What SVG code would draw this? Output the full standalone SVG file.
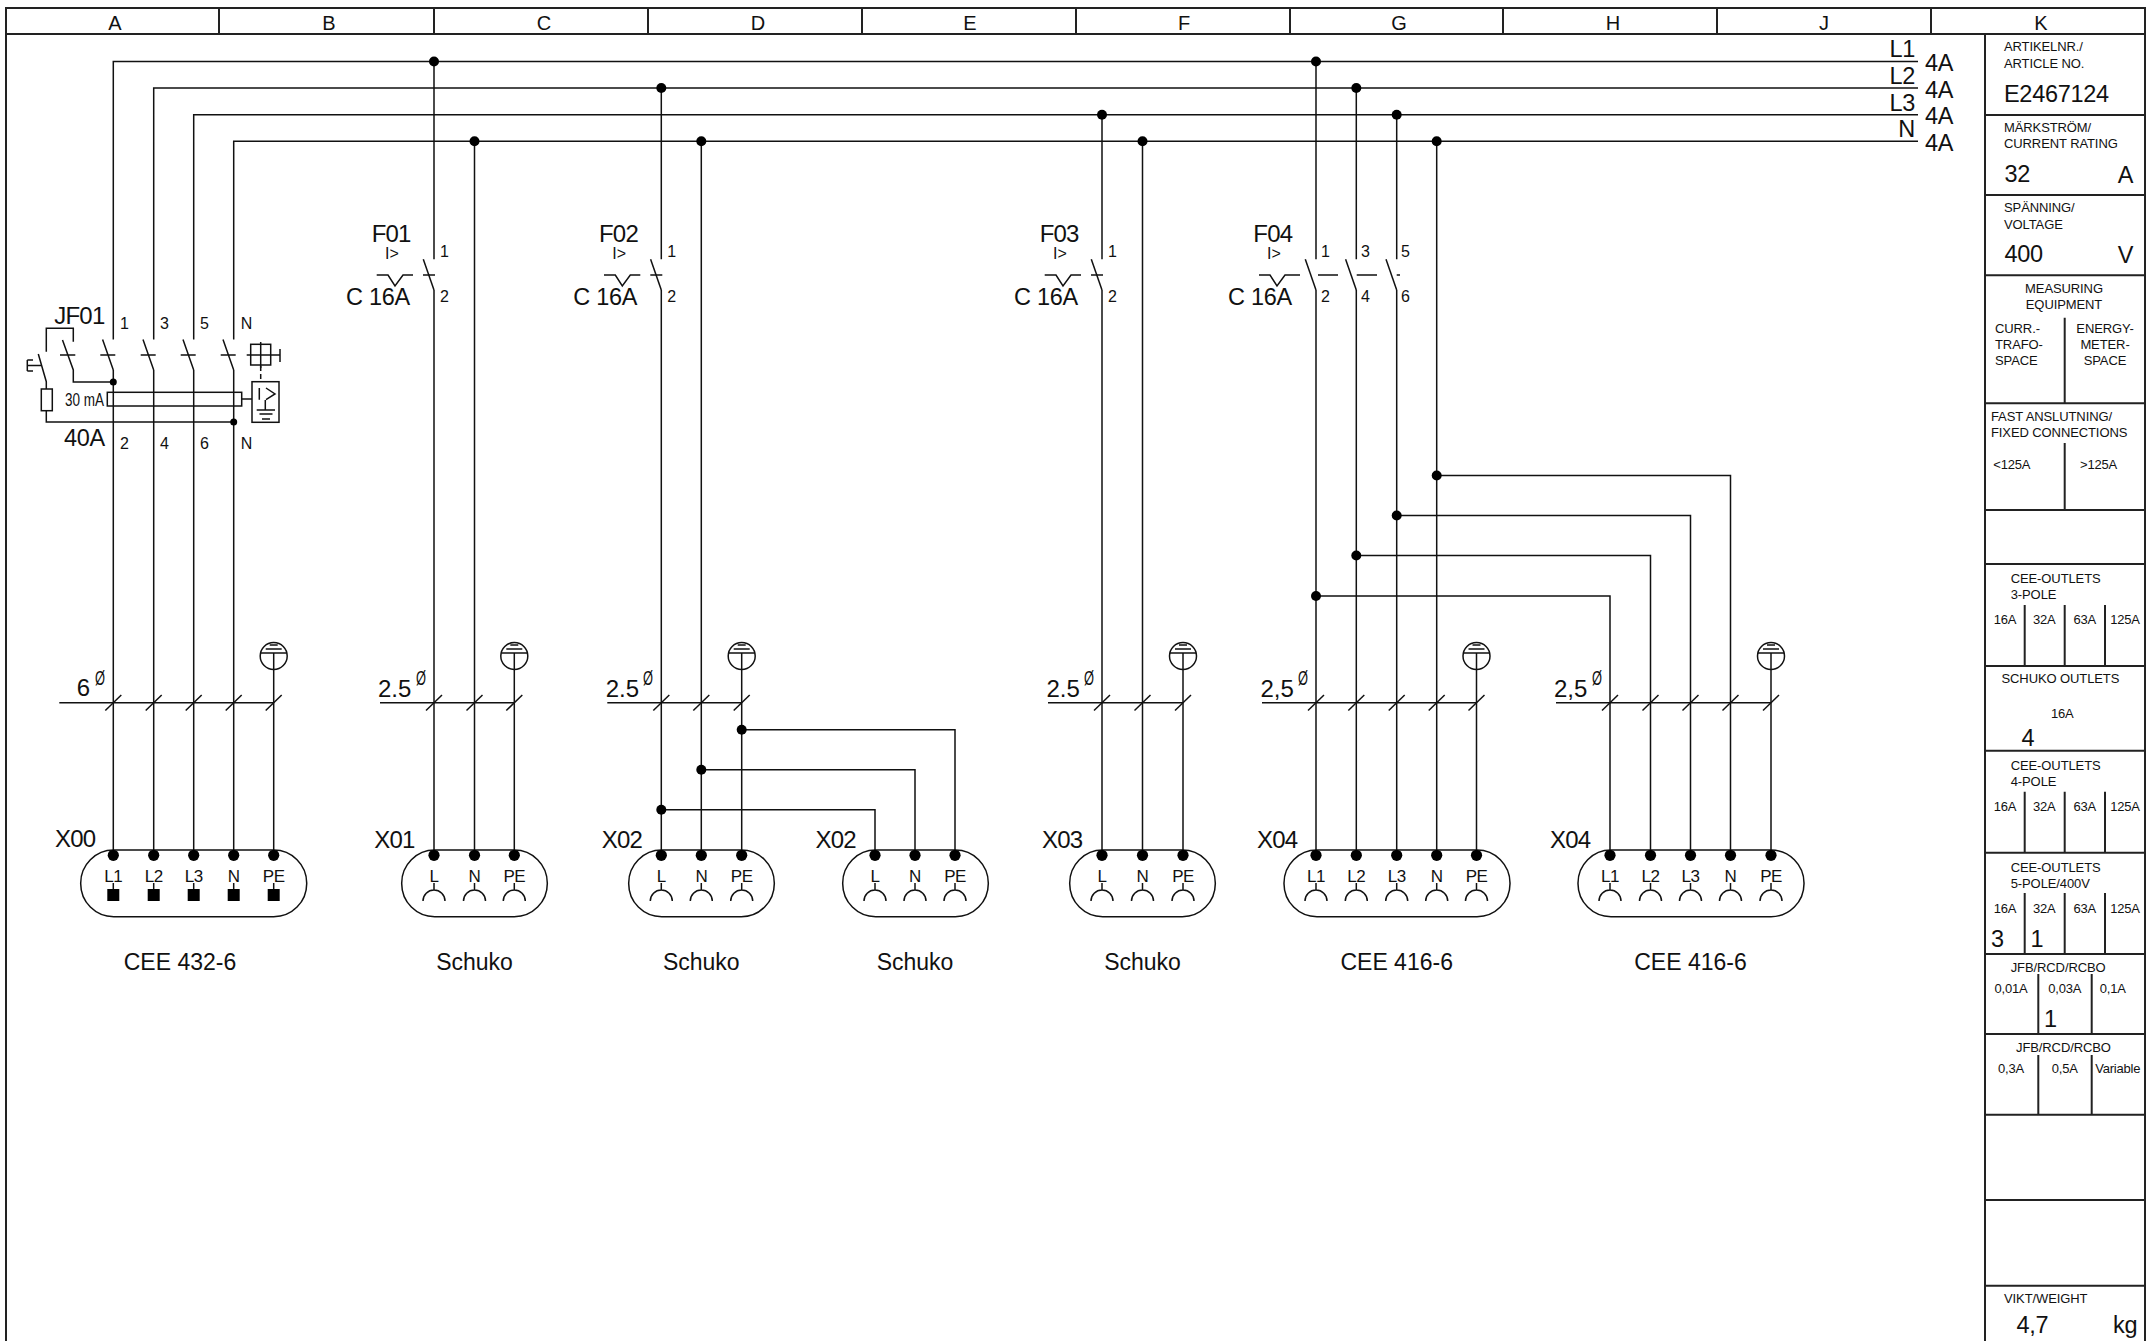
<svg xmlns="http://www.w3.org/2000/svg" width="2149" height="1341" viewBox="0 0 2149 1341">
<style>
text{font-family:"Liberation Sans",Arial,sans-serif;fill:#111}
.w,.w *{fill:none;stroke:#111;stroke-width:1.5}
.f{fill:none;stroke:#222;stroke-width:2}
.h{font-size:20px;text-anchor:middle}
.s{font-size:13px;letter-spacing:-.1px}
.a{font-size:13px;text-anchor:middle;letter-spacing:-.2px}
.c{font-size:13px;text-anchor:middle;letter-spacing:-.1px}
.b{font-size:23.5px;letter-spacing:-.3px}
.m{font-size:23px;text-anchor:middle}
.p{font-size:17px;text-anchor:middle;letter-spacing:-.5px}
.t{font-size:16px}
.d{font-size:24px;letter-spacing:-.8px}
.z{font-size:20px}
.k{fill:#000;stroke:none}
</style>
<defs>
<circle id="dot" r="5" class="k"/>
<circle id="pin" r="5.6" class="k"/>
<g id="plug"><path d="M0 883V889" class="w"/><rect x="-6" y="889" width="12" height="12" class="k"/></g>
<g id="sock" class="w"><path d="M0 883V890M-11 901A11 11 0 0 1 11 901"/></g>
<g id="earth" class="w"><circle cy="656" r="13.5"/><path d="M-4 645H4M-8 649H8M-13 653H13"/></g>
<path id="slash" d="M-8 710.5L8 695" class="w"/>
<path id="blade1" d="M-10.7 339.5L0 370M-13 355H2" class="w"/>
<path id="blade2" d="M-10.7 259.3L0 290" class="w"/>
<path id="tick" d="M-11 275H1" class="w"/>
<g id="curve" class="w"><path d="M-57.3 275H-46L-39 286L-31 275H-21"/></g>
<g id="curve4" class="w"><path d="M-57 275H-46L-39 286L-31 275H-16"/></g>
</defs>

<g id="frame">
<path class="f" d="M6 1341V8H2145V1341M6 34H2145M1985 34V1341"/>
<path class="f" d="M219 8V34M434 8V34M648 8V34M862 8V34M1076 8V34M1290 8V34M1503 8V34M1717 8V34M1931 8V34"/>
<text class="h" x="115" y="30">A</text><text class="h" x="329" y="30">B</text><text class="h" x="544" y="30">C</text><text class="h" x="758" y="30">D</text><text class="h" x="970" y="30">E</text><text class="h" x="1184" y="30">F</text><text class="h" x="1399" y="30">G</text><text class="h" x="1613" y="30">H</text><text class="h" x="1824" y="30">J</text><text class="h" x="2041" y="30">K</text>
</g>

<g id="connectors" class="w">
<path d="M113.3 339.5V61.5H1918M153.7 339.5V88H1918M193.7 339.5V114.7H1918M233.7 339.5V141.3H1918"/>
<path d="M113.3 370V855M153.7 370V855M193.7 370V855M233.7 370V855M273.7 653V855"/>
<path d="M434 61.5V259.3M434 290V855M474.5 141.3V855M514.3 653V855"/>
<path d="M661.3 88V259.3M661.3 290V855M701.3 141.3V855M741.7 653V855"/>
<path d="M741.7 729.7H955V855M701.3 769.7H915V855M661.3 809.7H875V855"/>
<path d="M1102 114.7V259.3M1102 290V855M1142.5 141.3V855M1183 653V855"/>
<path d="M1316 61.5V259.3M1316 290V855M1356.3 88V259.3M1356.3 290V855M1396.7 114.7V259.3M1396.7 290V855M1436.7 141.3V855M1476.5 653V855"/>
<path d="M1436.7 475.5H1730.5V855M1396.7 515.5H1690.5V855M1356.3 555.5H1650.5V855M1316 596H1610V855M1771 653V855"/>
<use href="#dot" x="434" y="61.5"/><use href="#dot" x="474.5" y="141.3"/><use href="#dot" x="661.3" y="88"/><use href="#dot" x="701.3" y="141.3"/><use href="#dot" x="1102" y="114.7"/><use href="#dot" x="1142.5" y="141.3"/><use href="#dot" x="1316" y="61.5"/><use href="#dot" x="1356.3" y="88"/><use href="#dot" x="1396.7" y="114.7"/><use href="#dot" x="1436.7" y="141.3"/>
<use href="#dot" x="741.7" y="729.7"/><use href="#dot" x="701.3" y="769.7"/><use href="#dot" x="661.3" y="809.7"/>
<use href="#dot" x="1436.7" y="475.5"/><use href="#dot" x="1396.7" y="515.5"/><use href="#dot" x="1356.3" y="555.5"/><use href="#dot" x="1316" y="596"/>
</g>

<g id="bus-labels">
<text class="b" x="1915" y="57.3" text-anchor="end">L1</text><text class="b" x="1915" y="84" text-anchor="end">L2</text><text class="b" x="1915" y="110.7" text-anchor="end">L3</text><text class="b" x="1915" y="136.7" text-anchor="end">N</text>
<text class="b" x="1925" y="71">4A</text><text class="b" x="1925" y="97.7">4A</text><text class="b" x="1925" y="124.3">4A</text><text class="b" x="1925" y="150.7">4A</text>
</g>

<g id="JF01">
<use href="#blade1" x="113.3"/><use href="#blade1" x="153.7"/><use href="#blade1" x="193.7"/><use href="#blade1" x="233.7"/>
<g class="w">
<path d="M46.3 351.7V328.3H73.3V341.7M62.5 340L73.3 370V382H113.3M60 355H75.3M38.3 354L46.3 381.7V389M46.3 410.7V422H233.7"/>
<path d="M27.3 360V371M27.3 360H33M27.3 365.5H41M27.3 371H33"/>
<rect x="41.3" y="389" width="11" height="21.7"/>
<rect x="107.3" y="392.3" width="134.4" height="13.7"/>
<path d="M241.7 399H252"/>
<rect x="252" y="381.7" width="27" height="40.6"/>
<path d="M259.3 388V399.7M266 388L275 394L266 399.7M265.3 400V410M256.7 410H275M259.5 414H272.5M262 419H270"/>
<path d="M260.7 366V381.7" stroke-dasharray="5 3"/>
<rect x="250.7" y="344.3" width="20" height="20.7"/>
<path d="M246.7 355H280M260.7 342V368M280 349V362"/>
</g>
<circle cx="113.3" cy="382" r="3.5" class="k"/><circle cx="233.7" cy="422" r="3.5" class="k"/>
<text class="d" x="54.3" y="324">JF01</text>
<text x="65" y="405.7" font-size="18" textLength="39" lengthAdjust="spacingAndGlyphs">30 mA</text>
<text x="64" y="446" font-size="23.5" letter-spacing="-.3">40A</text>
<text class="t" x="120" y="329">1</text><text class="t" x="160" y="329">3</text><text class="t" x="200" y="329">5</text><text class="t" x="240.7" y="329">N</text>
<text class="t" x="120" y="449">2</text><text class="t" x="160" y="449">4</text><text class="t" x="200" y="449">6</text><text class="t" x="240.7" y="449">N</text>
</g>

<g id="F01">
<use href="#blade2" x="434"/><use href="#tick" x="434"/><use href="#curve" x="434"/>
<text class="d" x="371.7" y="242.3">F01</text><text class="t" x="385" y="259">I&gt;</text><text class="b" x="346" y="305">C 16A</text>
<text class="t" x="440" y="256.7">1</text><text class="t" x="440" y="301.7">2</text>
</g>
<g id="F02">
<use href="#blade2" x="661.3"/><use href="#tick" x="661.3"/><use href="#curve" x="661.3"/>
<text class="d" x="599" y="242.3">F02</text><text class="t" x="612.3" y="259">I&gt;</text><text class="b" x="573.3" y="305">C 16A</text>
<text class="t" x="667.3" y="256.7">1</text><text class="t" x="667.3" y="301.7">2</text>
</g>
<g id="F03">
<use href="#blade2" x="1102"/><use href="#tick" x="1102"/><use href="#curve" x="1102"/>
<text class="d" x="1039.7" y="242.3">F03</text><text class="t" x="1053" y="259">I&gt;</text><text class="b" x="1014" y="305">C 16A</text>
<text class="t" x="1108" y="256.7">1</text><text class="t" x="1108" y="301.7">2</text>
</g>
<g id="F04">
<use href="#blade2" x="1316"/><use href="#blade2" x="1356.3"/><use href="#blade2" x="1396.7"/><use href="#curve4" x="1316"/>
<path class="w" d="M1318 275H1338M1356.7 275H1377M1396.7 275H1400"/>
<text class="d" x="1253.3" y="242.3">F04</text><text class="t" x="1267" y="259">I&gt;</text><text class="b" x="1228" y="305">C 16A</text>
<text class="t" x="1321" y="256.7">1</text><text class="t" x="1361" y="256.7">3</text><text class="t" x="1401" y="256.7">5</text>
<text class="t" x="1321" y="301.7">2</text><text class="t" x="1361" y="301.7">4</text><text class="t" x="1401" y="301.7">6</text>
</g>

<g id="cable-0">
<use href="#earth" x="273.7"/><path class="w" d="M59.3 702.7H273.7"/>
<use href="#slash" x="113.3"/><use href="#slash" x="153.7"/><use href="#slash" x="193.7"/><use href="#slash" x="233.7"/><use href="#slash" x="273.7"/>
<text x="76.7" y="696" font-size="24">6</text><text class="z" x="95" y="685" textLength="10" lengthAdjust="spacingAndGlyphs">Ø</text>
</g>
<g id="cable-1">
<use href="#earth" x="514.3"/><path class="w" d="M380 702.7H514.3"/>
<use href="#slash" x="434"/><use href="#slash" x="474.5"/><use href="#slash" x="514.3"/>
<text x="378" y="696.7" font-size="24">2.5</text><text class="z" x="416" y="685" textLength="10" lengthAdjust="spacingAndGlyphs">Ø</text>
</g>
<g id="cable-2">
<use href="#earth" x="741.7"/><path class="w" d="M607.3 702.7H741.7"/>
<use href="#slash" x="661.3"/><use href="#slash" x="701.3"/><use href="#slash" x="741.7"/>
<text x="605.7" y="696.7" font-size="24">2.5</text><text class="z" x="643" y="685" textLength="10" lengthAdjust="spacingAndGlyphs">Ø</text>
</g>
<g id="cable-3">
<use href="#earth" x="1183"/><path class="w" d="M1048 702.7H1183"/>
<use href="#slash" x="1102"/><use href="#slash" x="1142.5"/><use href="#slash" x="1183"/>
<text x="1046.5" y="696.7" font-size="24">2.5</text><text class="z" x="1084" y="685" textLength="10" lengthAdjust="spacingAndGlyphs">Ø</text>
</g>
<g id="cable-4">
<use href="#earth" x="1476.5"/><path class="w" d="M1262 702.7H1476.5"/>
<use href="#slash" x="1316"/><use href="#slash" x="1356.3"/><use href="#slash" x="1396.7"/><use href="#slash" x="1436.7"/><use href="#slash" x="1476.5"/>
<text x="1260.5" y="696.7" font-size="24">2,5</text><text class="z" x="1298" y="685" textLength="10" lengthAdjust="spacingAndGlyphs">Ø</text>
</g>
<g id="cable-5">
<use href="#earth" x="1771"/><path class="w" d="M1556 702.7H1771"/>
<use href="#slash" x="1610"/><use href="#slash" x="1650.5"/><use href="#slash" x="1690.5"/><use href="#slash" x="1730.5"/><use href="#slash" x="1771"/>
<text x="1554" y="696.7" font-size="24">2,5</text><text class="z" x="1592" y="685" textLength="10" lengthAdjust="spacingAndGlyphs">Ø</text>
</g>

<g id="X00">
<rect class="w" x="80.7" y="850" width="226" height="66.7" rx="33" ry="33"/>
<use href="#pin" x="113.3" y="855.3"/><use href="#pin" x="153.7" y="855.3"/><use href="#pin" x="193.7" y="855.3"/><use href="#pin" x="233.7" y="855.3"/><use href="#pin" x="273.7" y="855.3"/>
<use href="#plug" x="113.3"/><use href="#plug" x="153.7"/><use href="#plug" x="193.7"/><use href="#plug" x="233.7"/><use href="#plug" x="273.7"/>
<text class="p" x="113.3" y="882">L1</text><text class="p" x="153.7" y="882">L2</text><text class="p" x="193.7" y="882">L3</text><text class="p" x="233.7" y="882">N</text><text class="p" x="273.7" y="882">PE</text>
<text class="d" x="55" y="847">X00</text><text class="m" x="180" y="970">CEE 432-6</text>
</g>
<g id="X01">
<rect class="w" x="401.7" y="850" width="145.6" height="66.7" rx="33" ry="33"/>
<use href="#pin" x="434" y="855.3"/><use href="#pin" x="474.5" y="855.3"/><use href="#pin" x="514.3" y="855.3"/>
<use href="#sock" x="434"/><use href="#sock" x="474.5"/><use href="#sock" x="514.3"/>
<text class="p" x="434" y="882">L</text><text class="p" x="474.5" y="882">N</text><text class="p" x="514.3" y="882">PE</text>
<text class="d" x="374.3" y="848.3">X01</text><text class="m" x="474.5" y="970">Schuko</text>
</g>
<g id="X02">
<rect class="w" x="628.7" y="850" width="145.6" height="66.7" rx="33" ry="33"/>
<use href="#pin" x="661.3" y="855.3"/><use href="#pin" x="701.3" y="855.3"/><use href="#pin" x="741.7" y="855.3"/>
<use href="#sock" x="661.3"/><use href="#sock" x="701.3"/><use href="#sock" x="741.7"/>
<text class="p" x="661.3" y="882">L</text><text class="p" x="701.3" y="882">N</text><text class="p" x="741.7" y="882">PE</text>
<text class="d" x="601.7" y="848.3">X02</text><text class="m" x="701.3" y="970">Schuko</text>
</g>
<g id="X02b">
<rect class="w" x="842.7" y="850" width="145.6" height="66.7" rx="33" ry="33"/>
<use href="#pin" x="875" y="855.3"/><use href="#pin" x="915" y="855.3"/><use href="#pin" x="955" y="855.3"/>
<use href="#sock" x="875"/><use href="#sock" x="915"/><use href="#sock" x="955"/>
<text class="p" x="875" y="882">L</text><text class="p" x="915" y="882">N</text><text class="p" x="955" y="882">PE</text>
<text class="d" x="815.5" y="848.3">X02</text><text class="m" x="915" y="970">Schuko</text>
</g>
<g id="X03">
<rect class="w" x="1069.7" y="850" width="145.6" height="66.7" rx="33" ry="33"/>
<use href="#pin" x="1102" y="855.3"/><use href="#pin" x="1142.5" y="855.3"/><use href="#pin" x="1183" y="855.3"/>
<use href="#sock" x="1102"/><use href="#sock" x="1142.5"/><use href="#sock" x="1183"/>
<text class="p" x="1102" y="882">L</text><text class="p" x="1142.5" y="882">N</text><text class="p" x="1183" y="882">PE</text>
<text class="d" x="1042" y="848.3">X03</text><text class="m" x="1142.5" y="970">Schuko</text>
</g>
<g id="X04">
<rect class="w" x="1284" y="850" width="226" height="66.7" rx="33" ry="33"/>
<use href="#pin" x="1316" y="855.3"/><use href="#pin" x="1356.3" y="855.3"/><use href="#pin" x="1396.7" y="855.3"/><use href="#pin" x="1436.7" y="855.3"/><use href="#pin" x="1476.5" y="855.3"/>
<use href="#sock" x="1316"/><use href="#sock" x="1356.3"/><use href="#sock" x="1396.7"/><use href="#sock" x="1436.7"/><use href="#sock" x="1476.5"/>
<text class="p" x="1316" y="882">L1</text><text class="p" x="1356.3" y="882">L2</text><text class="p" x="1396.7" y="882">L3</text><text class="p" x="1436.7" y="882">N</text><text class="p" x="1476.5" y="882">PE</text>
<text class="d" x="1257" y="848.3">X04</text><text class="m" x="1396.7" y="970">CEE 416-6</text>
</g>
<g id="X04b">
<rect class="w" x="1578" y="850" width="226" height="66.7" rx="33" ry="33"/>
<use href="#pin" x="1610" y="855.3"/><use href="#pin" x="1650.5" y="855.3"/><use href="#pin" x="1690.5" y="855.3"/><use href="#pin" x="1730.5" y="855.3"/><use href="#pin" x="1771" y="855.3"/>
<use href="#sock" x="1610"/><use href="#sock" x="1650.5"/><use href="#sock" x="1690.5"/><use href="#sock" x="1730.5"/><use href="#sock" x="1771"/>
<text class="p" x="1610" y="882">L1</text><text class="p" x="1650.5" y="882">L2</text><text class="p" x="1690.5" y="882">L3</text><text class="p" x="1730.5" y="882">N</text><text class="p" x="1771" y="882">PE</text>
<text class="d" x="1550" y="848.3">X04</text><text class="m" x="1690.5" y="970">CEE 416-6</text>
</g>

<g id="title-block">
<path class="f" d="M1985 115H2145M1985 195H2145M1985 275.3H2145M1985 403.3H2145M1985 510H2145M1985 564H2145M1985 666H2145M1985 750.7H2145M1985 852.7H2145M1985 954H2145M1985 1034H2145M1985 1114.7H2145M1985 1200H2145M1985 1285.7H2145"/>
<path class="f" d="M2064.7 317.7V403.3M2064.7 443V510M2024.7 605V666M2064.7 605V666M2105 605V666M2024.7 791.7V852.7M2064.7 791.7V852.7M2105 791.7V852.7M2024.7 893V954M2064.7 893V954M2105 893V954M2038.3 974V1034M2091.7 974V1034M2038.3 1055V1114.7M2091.7 1055V1114.7"/>
<text class="s" x="2004" y="51">ARTIKELNR./</text><text class="s" x="2004" y="67.7">ARTICLE NO.</text><text class="b" x="2004" y="101.7">E2467124</text>
<text class="s" x="2004" y="131.7">MÄRKSTRÖM/</text><text class="s" x="2004" y="148.3">CURRENT RATING</text><text class="b" x="2004.5" y="181.7">32</text><text class="b" x="2133" y="183" text-anchor="end">A</text>
<text class="s" x="2004" y="212.3">SPÄNNING/</text><text class="s" x="2004" y="229">VOLTAGE</text><text class="b" x="2004.5" y="261.7">400</text><text class="b" x="2133" y="263" text-anchor="end">V</text>
<text class="c" x="2064" y="292.7">MEASURING</text><text class="c" x="2064" y="309">EQUIPMENT</text>
<text class="s" x="1995" y="333.3">CURR.-</text><text class="s" x="1995" y="349">TRAFO-</text><text class="s" x="1995" y="365">SPACE</text>
<text class="c" x="2105" y="333.3">ENERGY-</text><text class="c" x="2105" y="349">METER-</text><text class="c" x="2105" y="365">SPACE</text>
<text class="s" x="1991" y="420.7">FAST ANSLUTNING/</text><text class="s" x="1991" y="436.7">FIXED CONNECTIONS</text>
<text class="a" x="1993.3" y="469" style="text-anchor:start">&lt;125A</text><text class="a" x="2080" y="469" style="text-anchor:start">&gt;125A</text>
<text class="s" x="2010.7" y="582.7">CEE-OUTLETS</text><text class="s" x="2010.7" y="599">3-POLE</text>
<text class="a" x="2005" y="624">16A</text><text class="a" x="2044.3" y="624">32A</text><text class="a" x="2084.7" y="624">63A</text><text class="a" x="2125" y="624">125A</text>
<text class="s" x="2001.5" y="682.7">SCHUKO OUTLETS</text><text class="a" x="2062.3" y="717.7">16A</text><text class="b" x="2021.5" y="746">4</text>
<text class="s" x="2010.7" y="770">CEE-OUTLETS</text><text class="s" x="2010.7" y="786">4-POLE</text>
<text class="a" x="2005" y="811">16A</text><text class="a" x="2044.3" y="811">32A</text><text class="a" x="2084.7" y="811">63A</text><text class="a" x="2125" y="811">125A</text>
<text class="s" x="2010.7" y="872">CEE-OUTLETS</text><text class="s" x="2010.7" y="888.3">5-POLE/400V</text>
<text class="a" x="2005" y="913.3">16A</text><text class="a" x="2044.3" y="913.3">32A</text><text class="a" x="2084.7" y="913.3">63A</text><text class="a" x="2125" y="913.3">125A</text>
<text class="b" x="1991" y="947.3">3</text><text class="b" x="2030.5" y="947.3">1</text>
<text class="s" x="2010.7" y="971.7">JFB/RCD/RCBO</text>
<text class="a" x="2011" y="992.7">0,01A</text><text class="a" x="2064.7" y="992.7">0,03A</text><text class="a" x="2112.7" y="992.7">0,1A</text><text class="b" x="2044" y="1026.7">1</text>
<text class="s" x="2016" y="1052">JFB/RCD/RCBO</text>
<text class="a" x="2011" y="1073">0,3A</text><text class="a" x="2064.7" y="1073">0,5A</text><text class="a" x="2117.7" y="1073">Variable</text>
<text class="s" x="2004" y="1303.3">VIKT/WEIGHT</text><text class="b" x="2016.5" y="1332.7">4,7</text><text class="b" x="2113" y="1332.7" font-size="25">kg</text>
</g>
</svg>
